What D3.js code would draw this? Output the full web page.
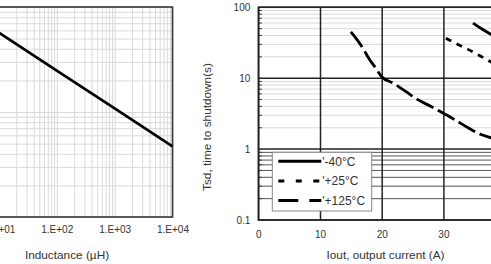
<!DOCTYPE html>
<html>
<head>
<meta charset="utf-8">
<script src="https://cdn.jsdelivr.net/npm/d3@7"></script>
<style>
  body { margin: 0; background: #fff; }
  svg { display: block; font-family: "Liberation Sans", Arial, sans-serif; }
</style>
</head>
<body>
<svg id="chart" width="491" height="264"></svg>
<script>
// left chart: Tsd vs inductance (only its right part is in the picture)
const inductance = [4, 10, 100, 1000, 10000];
const tsdInductance = [7.9, 5.69, 2.48, 1.08, 0.47];
const inductanceTicks = [10, 100, 1000, 10000];
const inductanceLabels = ["1.E+01", "1.E+02", "1.E+03", "1.E+04"];

// right chart: Tsd vs output current, three temperatures
const seriesNames = ["'-40°C", "'+25°C", "'+125°C"];
const currentM40 = [34.8, 36, 38, 40];
const tsdM40 = [60, 51, 40, 32];
const currentP25 = [30.4, 32, 34, 36, 38, 40];
const tsdP25 = [36.5, 31, 25.5, 20.5, 16.5, 13.5];
const currentP125 = [15, 16, 17, 18, 19, 20, 22, 24, 26, 28, 30, 32, 34, 36, 38, 40];
const tsdP125 = [45, 35, 26, 18.5, 14, 10.5, 8.4, 6.4, 4.9, 4.0, 3.2, 2.55, 2.0, 1.62, 1.42, 1.25];
const currentTicks = [0, 10, 20, 30];
const tsdTicks = [0.1, 1, 10, 100];

const svg = d3.select("#chart");
const isDecade = v => Math.abs(Math.log10(v) - Math.round(Math.log10(v))) < 1e-6;

// ---------- left chart ----------
const xL = d3.scaleLog().domain([1, 1e4]).range([-59, 172.5]);
const yL = d3.scaleLog().domain([0.1, 10]).range([217, 7]);

const left = svg.append("g");

left.append("g")
    .attr("transform", "translate(0,217)")
    .call(d3.axisBottom(xL).tickSize(-210).tickFormat(""))
    .call(g => g.select(".domain").remove())
    .call(g => g.selectAll("line").attr("stroke", "#d9d9d9").attr("stroke-width", 1));

left.append("g")
    .attr("transform", "translate(172.5,0)")
    .call(d3.axisLeft(yL).tickSize(231.5).tickFormat(""))
    .call(g => g.select(".domain").remove())
    .call(g => g.selectAll("line").attr("stroke", "#d9d9d9").attr("stroke-width", 1));

left.append("rect")
    .attr("x", xL(1)).attr("y", 7)
    .attr("width", 172.5 - xL(1)).attr("height", 210)
    .attr("fill", "none").attr("stroke", "#404040").attr("stroke-width", 1.7);

left.append("path")
    .datum(inductance.map((d, i) => [d, tsdInductance[i]]))
    .attr("fill", "none").attr("stroke", "#000").attr("stroke-width", 2.7)
    .attr("d", d3.line().x(d => xL(d[0])).y(d => yL(d[1])));

left.append("g")
    .attr("transform", "translate(0,217)")
    .call(d3.axisBottom(xL).tickValues(inductanceTicks).tickSize(0).tickPadding(9)
        .tickFormat((d, i) => inductanceLabels[i]))
    .call(g => g.select(".domain").remove())
    .call(g => g.selectAll("text").attr("font-size", 10).attr("fill", "#333")
        .attr("font-family", "Liberation Sans, Arial, sans-serif"));

left.append("text")
    .attr("x", 67).attr("y", 259)
    .attr("text-anchor", "middle").attr("font-size", 11.8).attr("fill", "#333")
    .text("Inductance (µH)");

// ---------- right chart ----------
const x0 = 258.3;
const xR = d3.scaleLinear().domain([0, 50]).range([x0, x0 + 308.5]);
const yR = d3.scaleLog().domain([0.1, 100]).range([220, 7.3]);

const right = svg.append("g");

// horizontal grid
const yGrid = yR.ticks();
right.append("g")
    .selectAll("line")
    .data(yGrid)
    .join("line")
    .attr("x1", x0).attr("x2", 600)
    .attr("y1", d => yR(d)).attr("y2", d => yR(d))
    .attr("stroke", d => isDecade(d) ? "#222" : (d < 1 ? "#555" : "#d9d9d9"))
    .attr("stroke-width", d => isDecade(d) ? 1.5 : 1);

// minor ticks inside the left axis
right.append("g")
    .selectAll("line")
    .data(yGrid.filter(d => !isDecade(d)))
    .join("line")
    .attr("x1", x0).attr("x2", x0 + 3.5)
    .attr("y1", d => yR(d)).attr("y2", d => yR(d))
    .attr("stroke", "#333").attr("stroke-width", 1);

// vertical grid
right.append("g")
    .attr("transform", "translate(0,220)")
    .call(d3.axisBottom(xR).tickValues(currentTicks).tickSize(-212.7).tickFormat(""))
    .call(g => g.select(".domain").remove())
    .call(g => g.selectAll("line").attr("stroke", "#222").attr("stroke-width", 1.5));

right.append("rect")
    .attr("x", x0).attr("y", 7.3)
    .attr("width", 400).attr("height", 212.7)
    .attr("fill", "none").attr("stroke", "#222").attr("stroke-width", 1.5);

svg.append("clipPath").attr("id", "plotR")
    .append("rect").attr("x", x0).attr("y", 7.3).attr("width", 400).attr("height", 212.7);

const lineR = d3.line().x(d => xR(d[0])).y(d => yR(d[1])).curve(d3.curveMonotoneX);
const curves = [
    {x: currentM40, y: tsdM40, dash: null},
    {x: currentP25, y: tsdP25, dash: "6,6"},
    {x: currentP125, y: tsdP125, dash: "19,5"}
];
right.append("g")
    .attr("clip-path", "url(#plotR)")
    .selectAll("path")
    .data(curves)
    .join("path")
    .attr("fill", "none").attr("stroke", "#000").attr("stroke-width", 2.8)
    .attr("stroke-dasharray", d => d.dash)
    .attr("d", d => lineR(d.x.map((v, i) => [v, d.y[i]])));

// tick labels
right.append("g")
    .attr("transform", "translate(0,220)")
    .call(d3.axisBottom(xR).tickValues(currentTicks).tickSize(0).tickPadding(11))
    .call(g => g.select(".domain").remove())
    .call(g => g.selectAll("text").attr("font-size", 10).attr("fill", "#333")
        .attr("font-family", "Liberation Sans, Arial, sans-serif"));

right.append("g")
    .attr("transform", `translate(${x0},0)`)
    .call(d3.axisLeft(yR).tickValues(tsdTicks).tickSize(0).tickPadding(8).tickFormat(d => String(d)))
    .call(g => g.select(".domain").remove())
    .call(g => g.selectAll("text").attr("font-size", 10).attr("fill", "#333")
        .attr("font-family", "Liberation Sans, Arial, sans-serif"));

right.append("text")
    .attr("x", 385.5).attr("y", 259)
    .attr("text-anchor", "middle").attr("font-size", 11.8).attr("fill", "#333")
    .text("Iout, output current (A)");

right.append("text")
    .attr("transform", "translate(211,127) rotate(-90)")
    .attr("text-anchor", "middle").attr("font-size", 11.8).attr("fill", "#333")
    .text("Tsd, time to shutdown(s)");

// legend
const legend = right.append("g").attr("transform", "translate(272.3,152.3)");
legend.append("rect")
    .attr("width", 99.4).attr("height", 58.7)
    .attr("fill", "#fff").attr("stroke", "#888").attr("stroke-width", 1);
const legendDash = [null, "6,11.5", "20,11"];
const items = legend.selectAll("g.item")
    .data(seriesNames)
    .join("g")
    .attr("class", "item")
    .attr("transform", (d, i) => `translate(0,${9 + i * 19.6})`);
items.append("line")
    .attr("x1", 6).attr("x2", 49)
    .attr("stroke", "#000").attr("stroke-width", 3)
    .attr("stroke-dasharray", (d, i) => legendDash[i]);
items.append("text")
    .attr("x", 50).attr("y", 4.3)
    .attr("font-size", 12).attr("fill", "#333")
    .text(d => d);
</script>
</body>
</html>
